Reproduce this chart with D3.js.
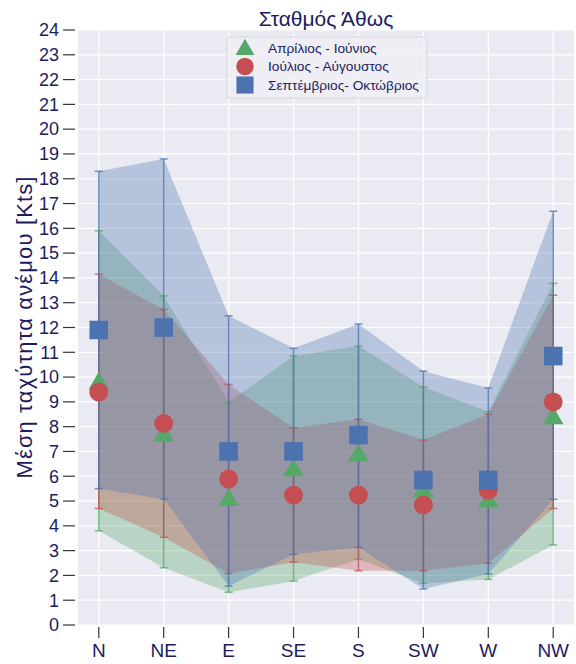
<!DOCTYPE html>
<html>
<head>
<meta charset="utf-8">
<script src="https://cdn.jsdelivr.net/npm/d3@7"></script>
<style>
  html, body { margin: 0; padding: 0; background: #ffffff; }
  svg { display: block; font-family: "Liberation Sans", Arial, sans-serif; }
</style>
</head>
<body>
<svg id="chart" width="576" height="664"></svg>
<script>
// ---- data ----
const categories = ["N", "NE", "E", "SE", "S", "SW", "W", "NW"];
const yTickValues = [0,1,2,3,4,5,6,7,8,9,10,11,12,13,14,15,16,17,18,19,20,21,22,23,24];

const seriesNames = ["Απρίλιος - Ιούνιος", "Ιούλιος - Αύγουστος", "Σεπτέμβριος- Οκτώβριος"];

const aprJunMean  = [9.8, 7.7, 5.1, 6.3, 6.9, 5.45, 5.05, 8.4];
const aprJunUpper = [15.9, 13.27, 8.98, 10.85, 11.25, 9.6, 8.6, 13.78];
const aprJunLower = [3.8, 2.31, 1.32, 1.77, 2.65, 1.68, 1.84, 3.23];

const julAugMean  = [9.4, 8.13, 5.89, 5.24, 5.24, 4.84, 5.44, 9.0];
const julAugUpper = [14.15, 12.73, 9.7, 7.96, 8.3, 7.46, 8.5, 13.3];
const julAugLower = [4.7, 3.54, 2.08, 2.53, 2.19, 2.19, 2.49, 4.7];

const sepOctMean  = [11.9, 12.0, 7.0, 7.0, 7.66, 5.85, 5.85, 10.85];
const sepOctUpper = [18.3, 18.8, 12.47, 11.16, 12.14, 10.24, 9.56, 16.69];
const sepOctLower = [5.5, 5.08, 1.57, 2.85, 3.13, 1.45, 2.06, 5.07];

const titleText = "Σταθμός Άθως";
const yLabelText = "Μέση ταχύτητα ανέμου [Kts]";

// ---- setup ----
const series = [
  { name: seriesNames[0], mean: aprJunMean, upper: aprJunUpper, lower: aprJunLower, color: "#55a868", symbol: d3.symbolTriangle },
  { name: seriesNames[1], mean: julAugMean, upper: julAugUpper, lower: julAugLower, color: "#c44e52", symbol: d3.symbolCircle },
  { name: seriesNames[2], mean: sepOctMean, upper: sepOctUpper, lower: sepOctLower, color: "#4c72b0", symbol: d3.symbolSquare }
];

const textColor = "#1c1c5c";
const plot = { left: 78, right: 574, top: 30, bottom: 625 };

const svg = d3.select("#chart");

const x = d3.scalePoint().domain(categories).range([plot.left, plot.right]).padding(0.32);
const y = d3.scaleLinear().domain([0, 24]).range([plot.bottom, plot.top]);

// background
svg.append("rect")
  .attr("x", plot.left).attr("y", plot.top)
  .attr("width", plot.right - plot.left).attr("height", plot.bottom - plot.top)
  .attr("fill", "#eaeaf2");

// grid
const grid = svg.append("g");
grid.selectAll("line.h").data(yTickValues).join("line")
  .attr("class", "h")
  .attr("x1", plot.left).attr("x2", plot.right)
  .attr("y1", d => y(d)).attr("y2", d => y(d))
  .attr("stroke", "#ffffff").attr("stroke-width", 1.2);
grid.selectAll("line.v").data(categories).join("line")
  .attr("class", "v")
  .attr("y1", plot.top).attr("y2", plot.bottom)
  .attr("x1", d => x(d)).attr("x2", d => x(d))
  .attr("stroke", "#ffffff").attr("stroke-width", 1.2);

// bands
const area = d3.area()
  .x((d, i) => x(categories[i]))
  .y0(d => y(d[0]))
  .y1(d => y(d[1]));

series.forEach(s => {
  const pts = categories.map((c, i) => [s.lower[i], s.upper[i]]);
  svg.append("path")
    .datum(pts)
    .attr("d", area)
    .attr("fill", s.color)
    .attr("fill-opacity", 0.33);
});

// error bars
series.forEach(s => {
  const g = svg.append("g").attr("stroke", s.color).attr("stroke-opacity", 0.75).attr("stroke-width", 1.5);
  categories.forEach((c, i) => {
    const cx = x(c);
    g.append("line").attr("x1", cx).attr("x2", cx).attr("y1", y(s.lower[i])).attr("y2", y(s.upper[i]));
    g.append("line").attr("x1", cx - 4).attr("x2", cx + 4).attr("y1", y(s.lower[i])).attr("y2", y(s.lower[i]));
    g.append("line").attr("x1", cx - 4).attr("x2", cx + 4).attr("y1", y(s.upper[i])).attr("y2", y(s.upper[i]));
  });
});

// markers
const symbolSizes = { triangle: 180, circle: 280, square: 345 };
function symSize(s) {
  if (s.symbol === d3.symbolTriangle) return symbolSizes.triangle;
  if (s.symbol === d3.symbolCircle) return symbolSizes.circle;
  return symbolSizes.square;
}
series.forEach(s => {
  svg.append("g").selectAll("path").data(s.mean).join("path")
    .attr("transform", (d, i) => `translate(${x(categories[i])},${y(d) + (s.symbol === d3.symbolTriangle ? 1.5 : 0)})`)
    .attr("d", d3.symbol().type(s.symbol).size(symSize(s)))
    .attr("fill", s.color);
});

// y axis
const yAxis = svg.append("g");
yAxis.selectAll("line").data(yTickValues).join("line")
  .attr("x1", 63).attr("x2", 75)
  .attr("y1", d => y(d)).attr("y2", d => y(d))
  .attr("stroke", "#333344").attr("stroke-width", 1.2);
yAxis.selectAll("text").data(yTickValues).join("text")
  .attr("x", 59).attr("y", d => y(d))
  .attr("dy", "0.35em")
  .attr("text-anchor", "end")
  .attr("font-size", 18)
  .attr("fill", textColor)
  .text(d => d);

// x axis
const xAxis = svg.append("g");
xAxis.selectAll("line").data(categories).join("line")
  .attr("x1", d => x(d)).attr("x2", d => x(d))
  .attr("y1", 627).attr("y2", 638)
  .attr("stroke", "#333344").attr("stroke-width", 1.2);
xAxis.selectAll("text").data(categories).join("text")
  .attr("x", d => x(d)).attr("y", 657)
  .attr("text-anchor", "middle")
  .attr("font-size", 19)
  .attr("fill", textColor)
  .text(d => d);

// y label
svg.append("text")
  .attr("transform", `translate(32,${(plot.top + plot.bottom) / 2}) rotate(-90)`)
  .attr("text-anchor", "middle")
  .attr("font-size", 22)
  .attr("textLength", 302)
  .attr("lengthAdjust", "spacing")
  .attr("fill", textColor)
  .text(yLabelText);

// title
svg.append("text")
  .attr("x", (plot.left + plot.right) / 2).attr("y", 26)
  .attr("text-anchor", "middle")
  .attr("font-size", 21)
  .attr("fill", textColor)
  .text(titleText);

// legend
const leg = svg.append("g");
leg.append("rect")
  .attr("x", 227).attr("y", 37).attr("width", 200).attr("height", 61).attr("rx", 3)
  .attr("fill", "#eeeef5").attr("fill-opacity", 0.85)
  .attr("stroke", "#d6d6e0").attr("stroke-width", 1);
series.forEach((s, i) => {
  const cy = 48 + i * 18.5;
  leg.append("path")
    .attr("transform", `translate(245,${cy + (s.symbol === d3.symbolTriangle ? 1.5 : 0)})`)
    .attr("d", d3.symbol().type(s.symbol).size(symSize(s) * 0.85))
    .attr("fill", s.color);
  leg.append("text")
    .attr("x", 268).attr("y", cy).attr("dy", "0.35em")
    .attr("font-size", 13.7)
    .attr("fill", textColor)
    .text(s.name);
});
</script>
</body>
</html>
